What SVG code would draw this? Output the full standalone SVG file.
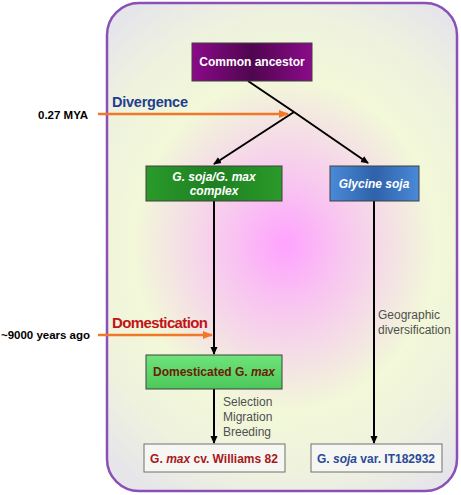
<svg xmlns="http://www.w3.org/2000/svg" width="461" height="495" viewBox="0 0 461 495">
<defs>
<radialGradient id="bg" cx="285" cy="245" r="260" gradientUnits="userSpaceOnUse" gradientTransform="translate(285 245) scale(1 1.1) translate(-285 -245)">
<stop offset="0" stop-color="#ffa2ff"/>
<stop offset="0.22" stop-color="#f8c6f0"/>
<stop offset="0.42" stop-color="#f4e2e4"/>
<stop offset="0.58" stop-color="#f2f8d8"/>
<stop offset="0.8" stop-color="#eef2de"/>
<stop offset="1" stop-color="#e6e6ea"/>
</radialGradient>
<linearGradient id="purple" x1="0" y1="0" x2="1" y2="0">
<stop offset="0" stop-color="#8a0a8a"/>
<stop offset="0.5" stop-color="#50064f"/>
<stop offset="1" stop-color="#8a0a8a"/>
</linearGradient>
<linearGradient id="green" x1="0" y1="0" x2="1" y2="0">
<stop offset="0" stop-color="#2a9a2a"/>
<stop offset="0.5" stop-color="#1f7f22"/>
<stop offset="1" stop-color="#2a9a2a"/>
</linearGradient>
<linearGradient id="blue" x1="0" y1="0" x2="1" y2="0">
<stop offset="0" stop-color="#4a8ad8"/>
<stop offset="0.5" stop-color="#2e62aa"/>
<stop offset="1" stop-color="#4a8ad8"/>
</linearGradient>
<linearGradient id="lgreen" x1="0" y1="0" x2="0" y2="1">
<stop offset="0" stop-color="#6ee47a"/>
<stop offset="1" stop-color="#4cc85a"/>
</linearGradient>
<marker id="ah" markerWidth="8" markerHeight="8" refX="7" refY="4" orient="auto" markerUnits="userSpaceOnUse">
<path d="M0,0.5 L8,4 L0,7.5 Z" fill="#000"/>
</marker>
<marker id="oh" markerWidth="10" markerHeight="10" refX="9" refY="5" orient="auto" markerUnits="userSpaceOnUse">
<path d="M0,1 L10,5 L0,9 Z" fill="#f07828"/>
</marker>
</defs>
<style>
text{font-family:"Liberation Sans",Arial,sans-serif}
.box{stroke:#404040;stroke-width:1}
.w{fill:#fff;font-weight:bold;font-size:12px;font-style:italic}
.edge{stroke:#000;stroke-width:2;fill:none}
.org{stroke:#f07828;stroke-width:2.5;fill:none}
.lab{fill:#505050;font-size:12px}
.blk{fill:#000;font-size:11.5px;font-weight:bold}
</style>
<rect x="107" y="3" width="350" height="488" rx="32" fill="url(#bg)" stroke="#8a50b8" stroke-width="2.5"/>
<g id="connectors">
<path class="edge" d="M248,81 L294,112 L368,163" marker-end="url(#ah)"/>
<path class="edge" d="M294,112 L214,164" marker-end="url(#ah)"/>
<path class="edge" d="M214,201 L214,354" marker-end="url(#ah)"/>
<path class="edge" d="M374,201 L374,443" marker-end="url(#ah)"/>
<path class="edge" d="M214,389 L214,443" marker-end="url(#ah)"/>
<path class="org" d="M98,114 L288,114" marker-end="url(#oh)"/>
<path class="org" d="M98,335 L212,335" marker-end="url(#oh)"/>
</g>
<g id="common">
<rect class="box" x="192" y="43" width="120" height="38" fill="url(#purple)"/>
<text x="252" y="66" text-anchor="middle" fill="#fff" font-size="12" font-weight="bold">Common ancestor</text>
</g>
<g id="complex">
<rect class="box" x="146" y="166" width="136" height="35" fill="url(#green)"/>
<text class="w" x="214" y="181" text-anchor="middle">G. soja/G. max</text>
<text class="w" x="214" y="195" text-anchor="middle">complex</text>
</g>
<g id="soja">
<rect class="box" x="330" y="166" width="89" height="35" fill="url(#blue)"/>
<text class="w" x="374" y="188" text-anchor="middle">Glycine soja</text>
</g>
<g id="domesticated">
<rect class="box" x="146" y="355" width="136" height="34" fill="url(#lgreen)"/>
<text x="214" y="376" text-anchor="middle" fill="#6a2008" font-size="12" font-weight="bold">Domesticated G. <tspan font-style="italic">max</tspan></text>
</g>
<g id="williams">
<rect x="144" y="444" width="141" height="28" fill="#f6f6f2" stroke="#707070" stroke-width="1"/>
<text x="214" y="463" text-anchor="middle" fill="#a8181c" font-size="12" font-weight="bold">G. <tspan font-style="italic">max</tspan> cv. Williams 82</text>
</g>
<g id="it182932">
<rect x="311" y="444" width="131" height="28" fill="#f6f6f2" stroke="#707070" stroke-width="1"/>
<text x="376" y="463" text-anchor="middle" fill="#2a4a98" font-size="12" font-weight="bold">G. <tspan font-style="italic">soja</tspan> var. IT182932</text>
</g>
<g id="labels">
<text x="112" y="107" fill="#1e3e90" font-size="14.5" font-weight="bold" textLength="76">Divergence</text>
<text x="38" y="119" class="blk">0.27 MYA</text>
<text x="112" y="328" fill="#c01418" font-size="15" font-weight="bold" textLength="96">Domestication</text>
<text x="1" y="339" class="blk" textLength="89">~9000 years ago</text>
<text class="lab" x="223" y="406">Selection</text>
<text class="lab" x="223" y="421">Migration</text>
<text class="lab" x="223" y="436">Breeding</text>
<text class="lab" x="378" y="319">Geographic</text>
<text class="lab" x="378" y="334">diversification</text>
</g>
</svg>
